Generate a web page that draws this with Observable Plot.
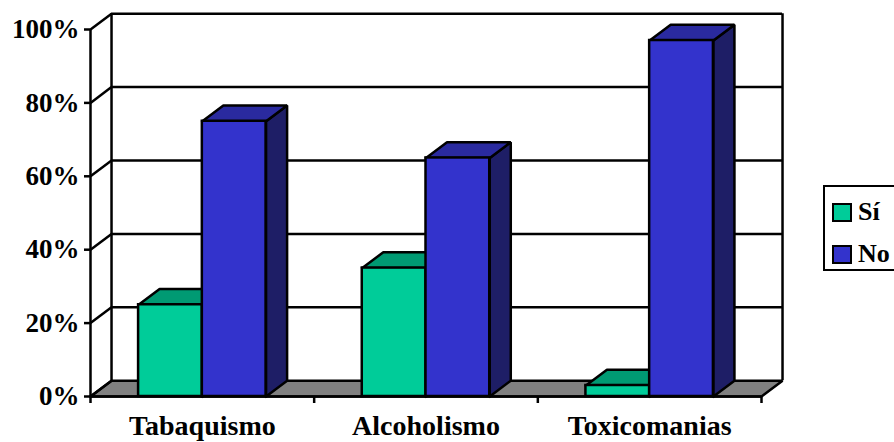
<!DOCTYPE html>
<html>
<head>
<meta charset="utf-8">
<script src="https://cdn.jsdelivr.net/npm/d3@7"></script>
<script src="https://cdn.jsdelivr.net/npm/@observablehq/plot@0.6"></script>
<style>
  body { margin: 0; background: #fff; }
  #chart { position: relative; width: 894px; height: 442px; overflow: hidden;
           font-family: "Liberation Serif", "Times New Roman", serif; font-weight: bold; }
  .legend { position: absolute; left: 823px; top: 185px; width: 100px; height: 86px;
            border: 2px solid #000; background: #fff; box-sizing: border-box; }
  .item { position: absolute; left: 7px; display: flex; align-items: center; font-size: 26px; line-height: 1; }
  .swatch { width: 16px; height: 15px; border: 2px solid #000; margin-right: 6px; }
</style>
</head>
<body>
<div id="chart"></div>
<script>
const categories = ["Tabaquismo", "Alcoholismo", "Toxicomanias"];
const series = ["Sí", "No"];
const siValues = [25, 35, 3];
const noValues = [75, 65, 97];
const yTicks = [0, 20, 40, 60, 80, 100];

const colors = {
  "Sí": {front: "#00cc99", top: "#009a73", side: "#007a5c"},
  "No": {front: "#3333cc", top: "#2a2a9f", side: "#1e1e66"}
};

// Depth of the 3D box in data units (x: category widths, y: percentage points)
const DX = 0.094, DY = 4.3;
// Width of one column in category widths
const BW = 0.285;
const N = categories.length;

// One record per column; the two series sit side by side around the category centre
const bars = [];
categories.forEach((c, i) => {
  [siValues[i], noValues[i]].forEach((v, s) => {
    const x1 = i + 0.5 + (s - 1) * BW;
    bars.push({category: c, series: series[s], value: v, x1, x2: x1 + BW});
  });
});

// Closed polygons for the visible top and right-hand faces of each column
const topFace = b => [[b.x1, b.value], [b.x2, b.value], [b.x2 + DX, b.value + DY], [b.x1 + DX, b.value + DY], [b.x1, b.value]];
const sideFace = b => [[b.x2, 0], [b.x2 + DX, DY], [b.x2 + DX, b.value + DY], [b.x2, b.value], [b.x2, 0]];
const toPoints = (list, face) => list.flatMap((b, k) => face(b).map(([x, y]) => ({x, y, id: k})));
const floor = [[0, 0], [N, 0], [N + DX, DY], [DX, DY], [0, 0]].map(([x, y]) => ({x, y, id: 0}));

const poly = (data, fill) => Plot.line(data, {
  x: "x", y: "y", z: "id", fill, stroke: "black", strokeWidth: 2.5,
  strokeLinejoin: "miter", strokeLinecap: "square"
});

const faceMarks = (face, key) => series.map(s => poly(toPoints(bars.filter(b => b.series === s), face), colors[s][key]));

const font = "'Liberation Serif', 'Times New Roman', serif";

const plot = Plot.plot({
  width: 894,
  height: 442,
  marginLeft: 90,
  marginRight: 133,
  marginTop: 29,
  marginBottom: 46,
  x: {domain: [0, N]},
  y: {domain: [0, 100]},
  style: {fontFamily: font, fontWeight: "bold", color: "black", background: "white"},
  marks: [
    // floor
    poly(floor, "#808080"),
    // back wall gridlines and edges
    Plot.ruleY(yTicks.filter(t => t > 0), {y: t => t + DY, x1: DX, x2: N + DX, stroke: "black", strokeWidth: 2.5}),
    Plot.ruleX([DX, N + DX], {x: d => d, y1: DY, y2: 100 + DY, stroke: "black", strokeWidth: 2.5}),
    // side wall diagonals
    Plot.link(yTicks, {x1: 0, y1: t => t, x2: DX, y2: t => t + DY, stroke: "black", strokeWidth: 2.5}),
    // front value axis line
    Plot.ruleX([0], {y1: 0, y2: 100, stroke: "black", strokeWidth: 2.5}),
    // columns: sides, tops, then fronts
    ...faceMarks(sideFace, "side"),
    ...faceMarks(topFace, "top"),
    ...series.map(s => Plot.rect(bars.filter(b => b.series === s), {
      x1: "x1", x2: "x2", y1: 0, y2: "value",
      fill: colors[s].front, stroke: "black", strokeWidth: 2.5, strokeLinejoin: "miter"
    })),
    Plot.ruleY([0], {x1: 0, x2: N, stroke: "black", strokeWidth: 2.5}),
    // axes
    Plot.axisY({ticks: yTicks, tickFormat: d => d + "%", tickSize: 6, tickPadding: 5,
      strokeWidth: 2.5, fontSize: 27, fontWeight: "bold", fontFamily: font, fill: "black"}),
    Plot.axisX({ticks: d3.range(N + 1), tickFormat: () => "", tickSize: 7, strokeWidth: 2.5}),
    Plot.axisX({ticks: d3.range(N).map(i => i + 0.5), tickSize: 0, tickPadding: 19,
      tickFormat: t => categories[Math.floor(t)], fontSize: 28, fontWeight: "bold", fontFamily: font, fill: "black"})
  ]
});

const chart = document.getElementById("chart");
chart.appendChild(plot);

// legend
const legend = document.createElement("div");
legend.className = "legend";
series.forEach((s, i) => {
  const item = document.createElement("div");
  item.className = "item";
  item.style.top = (i === 0 ? 12 : 54) + "px";
  const sw = document.createElement("div");
  sw.className = "swatch";
  sw.style.background = colors[s].front;
  const label = document.createElement("span");
  label.textContent = s;
  item.append(sw, label);
  legend.appendChild(item);
});
chart.appendChild(legend);
</script>
</body>
</html>
